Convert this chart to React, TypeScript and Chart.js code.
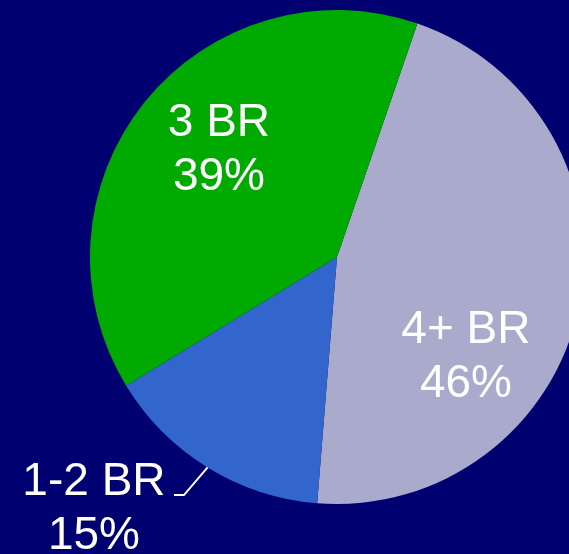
import React, { useEffect, useRef } from "react";
import { Chart, registerables } from "chart.js";

Chart.register(...registerables);

const categories = ["4+ BR", "1-2 BR", "3 BR"];
const shares = [46, 15, 39];
const sliceColors = ["#AAAACC", "#3366CC", "#00AA00"];
const percentLabels = ["46%", "15%", "39%"];

const BG = "#000070";

// label placement in units of the pie radius relative to the pie centre
const labelOffsets = [
  { dx: 0.522, dy: 0.349 },
  { dx: -0.984, dy: 0.964 },
  { dx: -0.478, dy: -0.491 },
];

const labelPlugin = {
  id: "sliceLabels",
  afterDatasetsDraw(chart: any) {
    const meta = chart.getDatasetMeta(0);
    const ctx = chart.ctx;
    ctx.save();
    ctx.fillStyle = "#FFFFFF";
    ctx.strokeStyle = "#FFFFFF";
    ctx.font = '46px "Liberation Sans", Arial, sans-serif';
    ctx.textAlign = "center";
    ctx.textBaseline = "alphabetic";
    meta.data.forEach((arc: any, i: number) => {
      const { x, y, outerRadius, startAngle, endAngle } = arc.getProps(
        ["x", "y", "outerRadius", "startAngle", "endAngle"],
        true
      );
      const off = labelOffsets[i];
      const lx = x + off.dx * outerRadius;
      const ly = y + off.dy * outerRadius;
      ctx.fillText(categories[i], lx, ly);
      ctx.fillText(percentLabels[i], lx, ly + 54);
      if (i === 1) {
        const mid = (startAngle + endAngle) / 2;
        const ex = x + Math.cos(mid) * outerRadius;
        const ey = y + Math.sin(mid) * outerRadius;
        ctx.lineWidth = 2;
        ctx.beginPath();
        ctx.moveTo(lx + 80, ly);
        ctx.lineTo(lx + 90, ly);
        ctx.lineTo(ex, ey);
        ctx.stroke();
      }
    });
    ctx.restore();
  },
};

export default function App() {
  const ref = useRef<HTMLCanvasElement | null>(null);
  useEffect(() => {
    if (!ref.current) return;
    const chart = new Chart(ref.current, {
      type: "pie",
      data: {
        labels: categories,
        datasets: [
          {
            data: shares,
            backgroundColor: sliceColors,
            borderWidth: 0,
          },
        ],
      },
      options: {
        responsive: false,
        animation: false,
        rotation: 19,
        layout: { padding: { left: 90, top: 10, right: 16, bottom: 50 } },
        plugins: {
          legend: { display: false },
          tooltip: { enabled: false },
        },
      },
      plugins: [labelPlugin],
    });
    return () => chart.destroy();
  }, []);
  return (
    <div
      style={{
        position: "fixed",
        left: 0,
        top: 0,
        width: 569,
        height: 554,
        overflow: "hidden",
        background: BG,
      }}
    >
      <canvas ref={ref} width={600} height={554} style={{ display: "block" }} />
    </div>
  );
}
